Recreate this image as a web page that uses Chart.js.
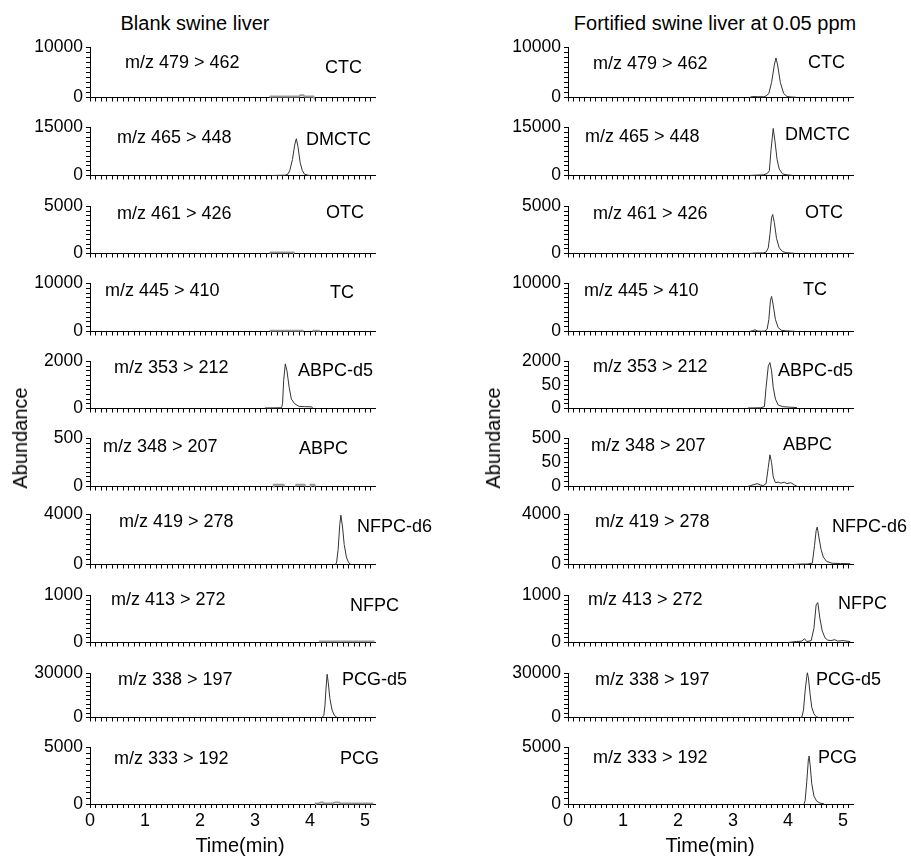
<!DOCTYPE html>
<html>
<head>
<meta charset="utf-8">
<script src="https://cdn.jsdelivr.net/npm/chart.js@4"></script>
<style>
body{margin:0;background:#fff;width:911px;height:857px;position:relative;overflow:hidden;font-family:"Liberation Sans",Arial,sans-serif;color:#000}
canvas{position:absolute}
.t{position:absolute;white-space:nowrap;transform:translateY(-50%);font-size:18px;line-height:1}
.ttl{position:absolute;white-space:nowrap;font-size:20px;line-height:1;transform:translate(-50%,-50%)}
.rot{position:absolute;white-space:nowrap;font-size:20px;line-height:1;transform:translate(-50%,-50%) rotate(-90deg)}
</style>
</head>
<body>
<script>
// panel names, transitions and y-axis tops (same for both columns)
const compounds = ['CTC', 'DMCTC', 'OTC', 'TC', 'ABPC-d5', 'ABPC', 'NFPC-d6', 'NFPC', 'PCG-d5', 'PCG'];
const transitions = ['m/z 479 > 462', 'm/z 465 > 448', 'm/z 461 > 426', 'm/z 445 > 410', 'm/z 353 > 212',
  'm/z 348 > 207', 'm/z 419 > 278', 'm/z 413 > 272', 'm/z 338 > 197', 'm/z 333 > 192'];
const yMaxes = [10000, 15000, 5000, 10000, 2000, 500, 4000, 1000, 30000, 5000];
// odd middle labels on the fortified side
const midLabelsRight = [null, null, null, null, '50', '50', null, null, null, null];
const xTickLabels = ['0', '1', '2', '3', '4', '5'];

// blank swine liver  [time (min), abundance]
const bCTC = [[3.27,0],[3.28,200],[3.8,200],[3.82,450],[3.88,450],[3.9,200],[4.06,200],[4.07,0]];
const bDMCTC = [[3.3,0],[3.55,100],[3.6,500],[3.63,1500],[3.68,5000],[3.72,9500],[3.75,11500],[3.78,9000],[3.82,4000],[3.86,1500],[3.9,400],[3.96,100],[4.0,0]];
const bOTC = [[3.27,0],[3.28,120],[3.7,120],[3.71,0]];
const bTC = [[3.27,0],[3.28,180],[3.87,180],[3.88,0],[3.95,null],[4.05,0],[4.06,180],[4.16,180],[4.17,0]];
const bABPCd5 = [[3.18,20],[3.48,30],[3.5,200],[3.52,1200],[3.55,1900],[3.58,1600],[3.62,900],[3.66,400],[3.72,200],[3.8,90],[3.9,80],[4.03,70],[4.05,0]];
const bABPC = [[3.33,0],[3.34,18],[3.52,18],[3.53,0],[3.6,null],[3.74,0],[3.75,18],[3.9,18],[3.91,0],[3.95,null],[4.0,0],[4.01,18],[4.08,18],[4.09,0]];
const bNFPCd6 = [[4.45,0],[4.48,100],[4.51,1200],[4.54,3200],[4.56,3950],[4.59,3000],[4.62,1600],[4.66,600],[4.7,150],[4.74,0]];
const bNFPC = [[4.16,25],[5.17,25]];
const bPCGd5 = [[4.22,0],[4.25,1500],[4.27,8000],[4.29,20000],[4.31,29500],[4.33,24000],[4.36,13000],[4.4,5000],[4.44,1500],[4.49,0]];
const bPCG = [[4.09,0],[4.1,60],[4.17,60],[4.19,150],[4.23,150],[4.25,60],[4.42,60],[4.45,150],[4.52,150],[4.55,60],[5.15,60]];

// fortified swine liver at 0.05 ppm
const fCTC = [[3.3,0],[3.35,200],[3.45,150],[3.55,150],[3.6,300],[3.65,800],[3.7,3000],[3.75,6500],[3.78,7900],[3.81,6500],[3.86,3000],[3.92,800],[3.98,200],[4.05,100],[4.15,50]];
const fDMCTC = [[3.3,0],[3.4,100],[3.55,200],[3.62,600],[3.66,1500],[3.69,8000],[3.73,14700],[3.76,11000],[3.8,5000],[3.84,2000],[3.9,500],[3.98,200],[4.08,50]];
const fOTC = [[3.3,0],[3.4,50],[3.55,60],[3.6,150],[3.64,600],[3.67,2000],[3.7,3800],[3.72,4150],[3.75,3300],[3.79,1600],[3.84,600],[3.9,200],[3.98,80],[4.1,30]];
const fTC = [[3.3,0],[3.35,150],[3.4,350],[3.45,100],[3.52,50],[3.58,100],[3.62,500],[3.65,2500],[3.68,6500],[3.7,7300],[3.73,5500],[3.77,2500],[3.82,800],[3.88,250],[3.95,150],[4.05,80],[4.13,40]];
const fABPCd5 = [[3.27,20],[3.5,30],[3.57,80],[3.6,900],[3.64,1800],[3.67,1950],[3.7,1600],[3.73,900],[3.77,400],[3.82,150],[3.9,80],[4.0,60],[4.16,40]];
const fABPC = [[3.27,0],[3.32,10],[3.38,20],[3.44,30],[3.5,15],[3.55,10],[3.6,30],[3.64,200],[3.67,330],[3.7,250],[3.73,100],[3.77,40],[3.82,45],[3.87,35],[3.93,45],[3.98,30],[4.05,40],[4.12,15],[4.17,0]];
const fNFPCd6 = [[4.1,0],[4.2,30],[4.35,40],[4.44,100],[4.48,1500],[4.51,2700],[4.53,3000],[4.56,2200],[4.6,1200],[4.64,600],[4.7,250],[4.8,100],[4.95,80],[5.13,60]];
const fNFPC = [[4.0,0],[4.15,20],[4.25,30],[4.3,80],[4.34,20],[4.42,40],[4.47,300],[4.51,800],[4.54,850],[4.58,500],[4.62,250],[4.67,100],[4.72,50],[4.78,40],[4.85,60],[4.9,30],[5.0,40],[5.13,20]];
const fPCGd5 = [[4.22,0],[4.25,300],[4.28,5000],[4.31,18000],[4.34,28000],[4.35,30500],[4.37,27000],[4.4,16000],[4.43,7000],[4.47,2500],[4.51,600],[4.55,100]];
const fPCG = [[4.29,0],[4.31,300],[4.34,2000],[4.37,4000],[4.38,4250],[4.4,3500],[4.43,1800],[4.47,700],[4.52,250],[4.58,80],[4.65,20]];

const blankSeries = [bCTC, bDMCTC, bOTC, bTC, bABPCd5, bABPC, bNFPCd6, bNFPC, bPCGd5, bPCG];
const fortSeries = [fCTC, fDMCTC, fOTC, fTC, fABPCd5, fABPC, fNFPCd6, fNFPC, fPCGd5, fPCG];
// which blank traces are only faint baseline noise (drawn grey)
const blankNoise = [true, false, true, true, false, true, false, true, false, true];

// layout
const rowTop = [44, 124, 203, 280, 358, 435, 511, 592, 670, 744];
const rowZero = [105, 183, 261, 339, 416, 494, 572, 650, 725, 804];
const axisX = [90, 568];
const mzPos = [
  [[125,62],[117,137],[117,213],[105,290],[114,367],[103,446],[119,521],[111,599],[118,679],[114,758]],
  [[593,63],[585,136],[593,213],[584,290],[593,366],[591,445],[595,521],[588,599],[595,679],[593,757]]
];
const namePos = [
  [[325,67],[306,139],[326,212],[330,292],[298,370],[299,448],[357,526],[350,605],[342,679],[340,758]],
  [[808,62],[785,134],[805,212],[803,289],[778,370],[783,444],[832,526],[838,603],[816,679],[818,757]]
];
const FONT = '"Liberation Sans", Arial, sans-serif';

function addText(cls, txt, x, y) {
  const d = document.createElement('div');
  d.className = cls;
  d.textContent = txt;
  d.style.left = x + 'px';
  d.style.top = y + 'px';
  document.body.appendChild(d);
}

function makePanel(col, row, pts, color, width, midLabel) {
  const last = row === 9;
  const xH = last ? 34 : 6;
  const top = rowTop[row], zero = rowZero[row];
  const W = 90 + 285 + 20;
  const H = 10 + (zero - top) + xH;
  const yMax = yMaxes[row];
  const cv = document.createElement('canvas');
  cv.width = W; cv.height = H;
  cv.style.width = W + 'px'; cv.style.height = H + 'px';
  cv.style.left = (axisX[col] - 90) + 'px';
  cv.style.top = (top - 10) + 'px';
  document.body.appendChild(cv);

  new Chart(cv, {
    type: 'line',
    data: {
      datasets: [{
        data: pts.map(p => ({x: p[0], y: p[1]})),
        borderColor: color,
        borderWidth: width,
        pointRadius: 0,
        tension: 0,
        spanGaps: false,
        clip: false
      }]
    },
    options: {
      responsive: false,
      animation: false,
      events: [],
      layout: {padding: {top: 10, right: 20, left: 0, bottom: 0}},
      plugins: {legend: {display: false}, tooltip: {enabled: false}},
      scales: {
        x: {
          type: 'linear', min: 0, max: 5.18,
          afterFit: s => { s.height = xH; },
          border: {color: '#000', width: 1},
          grid: {drawOnChartArea: false, tickLength: 4, color: '#000'},
          ticks: {
            stepSize: 0.1, maxTicksLimit: 100, autoSkip: false, maxRotation: 0, includeBounds: false,
            padding: 2, color: '#000', font: {size: 18, family: FONT},
            callback: v => {
              const r = Math.round(v);
              return (last && Math.abs(v - r) < 1e-6) ? xTickLabels[r] : '';
            }
          }
        },
        y: {
          min: 0, max: yMax,
          afterFit: s => { s.width = 90; },
          border: {color: '#000', width: 1},
          grid: {drawOnChartArea: false, tickLength: 4, color: '#000'},
          ticks: {
            stepSize: yMax / 10, autoSkip: false, padding: 3, color: '#000',
            font: {size: 17.5, family: FONT},
            callback: v => {
              if (v === 0) return '0';
              if (Math.abs(v - yMax) < 1e-6) return String(yMax);
              if (midLabel && Math.abs(v - yMax / 2) < 1e-6) return midLabel;
              return '';
            }
          }
        }
      }
    }
  });
}

for (let i = 0; i < 10; i++) {
  const noise = blankNoise[i];
  makePanel(0, i, blankSeries[i], noise ? '#9a9a9a' : '#333', noise ? 1.8 : 1, null);
  makePanel(1, i, fortSeries[i], '#333', 1, midLabelsRight[i]);
  addText('t', transitions[i], mzPos[0][i][0], mzPos[0][i][1]);
  addText('t', compounds[i], namePos[0][i][0], namePos[0][i][1]);
  addText('t', transitions[i], mzPos[1][i][0], mzPos[1][i][1]);
  addText('t', compounds[i], namePos[1][i][0], namePos[1][i][1]);
}

addText('ttl', 'Blank swine liver', 195, 23);
addText('ttl', 'Fortified swine liver at 0.05 ppm', 715, 23);
addText('rot', 'Abundance', 20, 438);
addText('rot', 'Abundance', 493, 438);
addText('ttl', 'Time(min)', 240, 845);
addText('ttl', 'Time(min)', 710, 845);
</script>
</body>
</html>
